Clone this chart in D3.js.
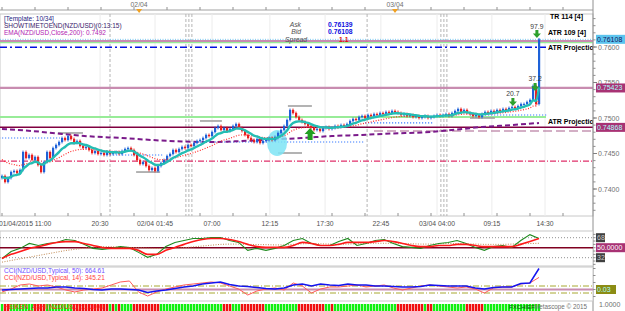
<!DOCTYPE html>
<html>
<head>
<meta charset="utf-8">
<script src="https://cdn.jsdelivr.net/npm/d3@7"></script>
<style>
body{margin:0;background:#fff;}
svg{display:block;font-family:"Liberation Sans",Arial,sans-serif;}
</style>
</head>
<body>
<svg id="chart" width="625" height="311"></svg>
<script>
// ---- data (NZD/USD, 01/04 - 03/04/2015) ----
const firstOpen = 0.74155;
const closes = [
 0.74183,0.74099,0.74155,0.74239,0.74254,0.74225,0.74268,0.74521,0.74437,0.74479,
 0.74408,0.74451,0.74338,0.74239,0.74380,0.74521,0.74437,0.74577,0.74620,0.74662,
 0.74718,0.74690,0.74746,0.74704,0.74648,0.74676,0.74606,0.74577,0.74592,0.74549,
 0.74507,0.74535,0.74493,0.74507,0.74479,0.74521,0.74493,0.74507,0.74521,0.74493,
 0.74535,0.74563,0.74577,0.74549,0.74479,0.74408,0.74352,0.74380,0.74324,0.74268,
 0.74296,0.74254,0.74324,0.74366,0.74408,0.74465,0.74493,0.74549,0.74521,0.74563,
 0.74592,0.74577,0.74620,0.74606,0.74648,0.74676,0.74690,0.74718,0.74761,0.74746,
 0.74803,0.74859,0.74887,0.74831,0.74859,0.74817,0.74845,0.74887,0.74915,0.74859,
 0.74817,0.74761,0.74718,0.74690,0.74662,0.74704,0.74648,0.74676,0.74690,0.74718,
 0.74690,0.74732,0.74789,0.74831,0.74887,0.74972,0.75113,0.75070,0.75014,0.74972,
 0.74944,0.74915,0.74887,0.74859,0.74831,0.74845,0.74817,0.74859,0.74873,0.74845,
 0.74859,0.74887,0.74873,0.74901,0.74887,0.74915,0.74958,0.74986,0.74972,0.75014,
 0.75028,0.75000,0.75042,0.75028,0.75056,0.75042,0.75070,0.75056,0.75085,0.75070,
 0.75099,0.75085,0.75070,0.75042,0.75056,0.75028,0.75042,0.75014,0.75028,0.75000,
 0.75014,0.75028,0.75000,0.75014,0.75028,0.75042,0.75028,0.75042,0.75056,0.75028,
 0.75070,0.75099,0.75127,0.75085,0.75113,0.75070,0.75056,0.75028,0.75042,0.75014,
 0.75056,0.75085,0.75070,0.75099,0.75085,0.75113,0.75099,0.75127,0.75113,0.75141,
 0.75155,0.75141,0.75169,0.75197,0.75197,0.75225,0.75254,0.75451,0.75197,0.76108
];
const emaFastSeed = 0.74169, emaSlowSeed = 0.74437;
const ema200Bars = [0,10,20,30,40,50,60,70,80,90,100,110,120,130,140,150,160,170,179];
const ema200 = [0.74845,0.74817,0.74775,0.74739,0.74718,0.74690,0.74669,0.74662,0.74676,0.74697,
 0.74718,0.74746,0.74761,0.74782,0.74796,0.74831,0.74873,0.74901,0.74930];
const ema200Label = "0.7492";

const priceTicks = [0.7400,0.7450,0.7500,0.7550,0.7600];
const timeLabels = ["01/04/2015 11:00","20:30","02/04 01:45","07:00","12:15","17:30","22:45","03/04 04:00","09:15","14:30"];
const timeLabelBars = [7.7,32.7,51,70,89.3,107.7,126.3,145,163.3,181];
const dayLabels = ["02/04","03/04"];
const dayBars = [45.7,131];
const sepSingle = [36,121.7];
const sepTriple = [62.3,147.3];

// horizontal levels (price)
const bidPrice = 0.76108, askPrice = 0.76139, spread = "1.1";
const levelTopMauve = 0.76085, levelTopGreen = 0.76062, atrProjHigh = 0.75995;
const levelMidMauve = 0.75423, atrProjLow = 0.75014, levelMaroon = 0.74868;
const levelDashMauve = 0.74817, levelCrimson = 0.74394;
// short segments: [fromBar, toBar, price]
const greySegments = [[18.7,27,0.74789],[44.7,52.7,0.74239],[66,73.3,0.74958],[95.3,103.3,0.75169],[92,100,0.74507],[156,164.3,0.75000]];
const blueDotSegments = [[-1,19.3,0.74718],[36,54,0.74479],[66,121,0.74662],[121,143.7,0.74930],[156,182,0.75042]];
const downArrowBars = [170.3,177.7,178.3];
const downArrowPrices = [0.75282,0.75493,0.76239];
const downArrowLabels = ["20.7","37.2","97.9"];

// oscillator panel (60 samples across the bars)
const oscFast = [30.5,43,48.8,57.7,54,57.7,59.5,64.8,63,56,48.8,47,48.8,52,50.5,41.6,32.7,38,52,59.5,
 63,66.6,66.6,68.4,68.4,63,59.5,45.2,48.8,45.2,48.8,54,63,66.6,57.7,54,54,61,66.6,54,
 57.7,63,64.8,57.7,52,50.5,48.8,54,57.7,59.5,63,57.7,50.5,45.2,52,54,50.5,63,73.5,66.6];
const oscSignal = [30.5,38,43,48.8,52,56,59.5,61,61,57.7,54,50.5,48.8,48.8,48.8,45.2,38,38,45.2,50.5,
 56,61,64.8,66.6,66.6,64.8,61,56,52,50.5,50.5,50.5,54,59.5,57.7,54,54,56,59.5,59.5,
 59.5,61,63,61,57.7,54,52,52,54,54,56,56,54,52,52,52,52,56,61,66.6];
const oscSlow = [24,27,30,33,36,39,42,45,47,49,51,52,52,51,50.5,50,49,48.5,48.5,49,
 50,51.5,53,54.5,56,56.5,56.5,56,55.5,55.5,55,55,56,57,57.5,57,56.5,56,56.5,57,
 57.5,58,58,58,57.5,57,56.5,56.5,57,57.5,57.5,57,56.5,56,56,56,56.5,57,57.5,58];
const oscLevels = [68,50,32];

// CCI panel
const cci50 = [-14,0,14,29,43,43,71,71,43,29,0,-14,14,14,0,-14,-86,-43,-14,29,
 71,100,157,186,214,143,100,86,57,29,14,43,129,157,100,157,129,114,157,129,
 129,100,100,86,71,71,86,129,114,100,100,100,43,14,57,71,71,171,186,600];
const cci14 = [-71,14,129,157,100,129,71,-14,-71,-14,14,43,129,214,243,-71,-186,-71,14,71,
 129,157,186,214,186,100,14,-157,-43,14,43,-14,186,100,-100,14,71,71,100,129,
 71,100,129,43,-14,43,100,129,100,71,43,71,14,-100,43,71,71,157,186,345];

// ---- layout ----
const svg = d3.select("#chart");
const axisX = 593;
const mainTop = 14, mainBot = 216;
const oscTop = 231, oscBot = 266;
const cciTop = 267, cciBot = 301;
const haTop = 302;

const x = d3.scaleLinear().domain([0, closes.length - 1]).range([2, 539]);
const y = d3.scaleLinear().domain([0.74, 0.76]).range([189, 47]);
const xo = d3.scaleLinear().domain([0, oscFast.length - 1]).range([2, 539]);
const yo = d3.scaleLinear().domain([32, 68]).range([257.7, 237.7]);
const yc = d3.scaleLinear().domain([-100, 100]).range([293, 286]);

const bars = closes.map((c, i) => {
  const o = i ? closes[i - 1] : firstOpen;
  return {i, o, c, h: Math.max(o, c) + 0.0002, l: Math.min(o, c) - 0.0002};
});
function ema(vals, period, seed) {
  const k = 2 / (period + 1); let e = seed;
  return vals.map(v => (e = e + k * (v - e)));
}
const emaFast = ema(closes, 8, emaFastSeed);
const emaSlow = ema(closes, 21, emaSlowSeed);

// clip paths
const defs = svg.append("defs");
[["clipMain", mainTop, mainBot], ["clipOsc", oscTop, oscBot], ["clipCci", cciTop, cciBot], ["clipHa", haTop, 311]].forEach(d => {
  defs.append("clipPath").attr("id", d[0]).append("rect")
    .attr("x", 0).attr("y", d[1]).attr("width", axisX).attr("height", d[2] - d[1]);
});

const txt = (par, tx, ty, s, color, size, opts) => {
  const t = par.append("text").attr("x", tx).attr("y", ty).attr("font-size", size || 7).attr("fill", color).text(s);
  if (opts) Object.keys(opts).forEach(k => t.attr(k, opts[k]));
  return t;
};

// ---- top ruler ----
svg.append("line").attr("x1", 0).attr("x2", axisX).attr("y1", 10).attr("y2", 10).attr("stroke", "#a0a0a0");
d3.range(0, 200, 11).forEach(b => {
  if (x(b) > axisX) return;
  svg.append("line").attr("x1", x(b)).attr("x2", x(b)).attr("y1", 7).attr("y2", 10).attr("stroke", "#909090");
});
dayLabels.forEach((t, i) => {
  txt(svg, x(dayBars[i]), 7, t, "#707070", 6.8, {"text-anchor": "middle"});
  const cx = x(dayBars[i]);
  svg.append("path").attr("d", `M${cx - 3},9 L${cx + 3},9 L${cx},13 Z`).attr("fill", "#f0a020");
});

// ---- main panel ----
svg.append("rect").attr("x", 0).attr("y", mainTop).attr("width", axisX).attr("height", mainBot - mainTop)
  .attr("fill", "#fff").attr("stroke", "#c8c8c8");
const g = svg.append("g").attr("clip-path", "url(#clipMain)");

timeLabelBars.slice(1).forEach(b => {
  g.append("line").attr("x1", x(b)).attr("x2", x(b)).attr("y1", mainTop).attr("y2", mainBot).attr("stroke", "#ececec");
});
const vdash = (xx) => g.append("line").attr("x1", xx).attr("x2", xx).attr("y1", mainTop).attr("y2", mainBot)
  .attr("stroke", "#b4b4b4").attr("stroke-dasharray", "3,2");
sepSingle.forEach(b => vdash(x(b)));
sepTriple.forEach(b => { vdash(x(b) - 3); vdash(x(b)); vdash(x(b) + 3); });

const hline = (p, color, w, dash, x2) => g.append("line").attr("x1", 0).attr("x2", x2 || axisX)
  .attr("y1", y(p)).attr("y2", y(p)).attr("stroke", color).attr("stroke-width", w)
  .attr("stroke-dasharray", dash || null);
hline(levelCrimson, "#e0306a", 1.3, "6,2,1,2");
hline(levelMaroon, "#800040", 1.5);
hline(atrProjLow, "#98ec98", 2, null, 546);
hline(levelMidMauve, "#c88cb0", 2.2);
hline(levelTopGreen, "#98ec98", 1.5);
hline(levelTopMauve, "#c88cb0", 2);
hline(bidPrice, "#7cc8f0", 1, "1,1.5");
hline(atrProjHigh, "#0010e0", 1.5, "7,3,2,3", 546);
g.append("line").attr("x1", x(124)).attr("x2", axisX).attr("y1", y(levelDashMauve)).attr("y2", y(levelDashMauve))
  .attr("stroke", "#a8608c").attr("stroke-width", 1.2).attr("stroke-dasharray", "9,4");

greySegments.forEach(s => g.append("line").attr("x1", x(s[0])).attr("x2", x(s[1]))
  .attr("y1", y(s[2])).attr("y2", y(s[2])).attr("stroke", "#a0a0a0").attr("stroke-width", 1.6));
blueDotSegments.forEach(s => g.append("line").attr("x1", x(s[0])).attr("x2", x(s[1]))
  .attr("y1", y(s[2])).attr("y2", y(s[2])).attr("stroke", "#3a7cff").attr("stroke-width", 1.2)
  .attr("stroke-dasharray", "1.2,1.8"));

// EMA 200
g.append("path").datum(ema200)
  .attr("d", d3.line().x((d, i) => x(ema200Bars[i])).y(d => y(d)).curve(d3.curveMonotoneX))
  .attr("fill", "none").attr("stroke", "#7a1a8a").attr("stroke-width", 2).attr("stroke-dasharray", "5,3");

// highlight ellipse
g.append("ellipse").attr("cx", x(91.7)).attr("cy", y(0.74648)).attr("rx", 10).attr("ry", 13)
  .attr("fill", "#7ee4f4").attr("opacity", 0.85);

// candles
const cg = g.append("g");
bars.forEach(b => {
  const col = b.c >= b.o ? "#1e62d8" : "#e82020";
  cg.append("line").attr("x1", x(b.i)).attr("x2", x(b.i)).attr("y1", y(b.h)).attr("y2", y(b.l)).attr("stroke", col);
  const top = y(Math.max(b.o, b.c)), bot = y(Math.min(b.o, b.c));
  cg.append("rect").attr("x", x(b.i) - 1).attr("y", top).attr("width", 2.2)
    .attr("height", Math.max(1, bot - top)).attr("fill", col);
});

// moving averages
g.append("path").datum(emaSlow).attr("d", d3.line().x((d, i) => x(i)).y(d => y(d)))
  .attr("fill", "none").attr("stroke", "#ff2a2a").attr("stroke-width", 1.2).attr("stroke-dasharray", "1,1.6");
g.append("path").datum(emaFast).attr("d", d3.line().x((d, i) => x(i)).y(d => y(d)).curve(d3.curveMonotoneX))
  .attr("fill", "none").attr("stroke", "#24bdb3").attr("stroke-width", 2.4);

// arrows
downArrowBars.forEach((b, i) => {
  const cx = x(b), t = y(downArrowPrices[i]);
  g.append("path").attr("d", `M${cx - 1.5},${t} h3 v3.5 h2.5 l-4,4.5 l-4,-4.5 h2.5 Z`).attr("fill", "#2ca02c");
  txt(g, cx, t - 1.5, downArrowLabels[i], "#404040", 6.8, {"text-anchor": "middle"});
});
{
  const cx = x(102.7), t = y(0.74859);
  g.append("path").attr("d", `M${cx},${t} l5.5,6 h-3 v6 h-5 v-6 h-3 Z`).attr("fill", "#22a022");
}

// texts in main panel
txt(g, 4, 20.5, "[Template: 10/34]", "#1a1a80", 6.5);
txt(g, 4, 27.5, "SHOWTIMETOEND(NZD/USD)(0:13:15)", "#3a1a6a", 6.5);
txt(g, 4, 34.5, "EMA(NZD/USD,Close,200): " + ema200Label, "#b21cb2", 6.5);
txt(g, 301, 27, "Ask", "#505050", 6.8, {"text-anchor": "end", "font-style": "italic"});
txt(g, 301, 34.3, "Bid", "#505050", 6.8, {"text-anchor": "end", "font-style": "italic"});
txt(g, 307, 41.6, "Spread", "#505050", 6.8, {"text-anchor": "end", "font-style": "italic"});
txt(g, 328, 27, askPrice.toFixed(5), "#1010e0", 6.8, {"font-weight": "bold"});
txt(g, 328, 34.3, bidPrice.toFixed(5), "#1010e0", 6.8, {"font-weight": "bold"});
txt(g, 339, 41.6, spread, "#e01010", 6.8, {"font-weight": "bold"});
txt(g, 550, 18.5, "TR 114 [4]", "#000", 7, {"font-weight": "bold"});
txt(g, 548, 35, "ATR 109 [4]", "#000", 7, {"font-weight": "bold"});
txt(g, 548, 50, "ATR Projection", "#000", 7, {"font-weight": "bold"});
txt(g, 548, 123.5, "ATR Projection", "#000", 7, {"font-weight": "bold"});

// right price axis
svg.append("line").attr("x1", axisX).attr("x2", axisX).attr("y1", 0).attr("y2", 311).attr("stroke", "#909090");
d3.range(0.736, 0.765, 0.001).forEach(p => {
  const yy = y(p); if (yy < mainTop || yy > mainBot) return;
  svg.append("line").attr("x1", axisX).attr("x2", axisX + 2.5).attr("y1", yy).attr("y2", yy).attr("stroke", "#909090");
});
priceTicks.forEach(p => {
  svg.append("line").attr("x1", axisX).attr("x2", axisX + 4).attr("y1", y(p)).attr("y2", y(p)).attr("stroke", "#808080");
  txt(svg, 598, y(p) + 2.5, p.toFixed(4), "#707070", 7);
});
const tag = (ty, s, bg, fg, w) => {
  svg.append("rect").attr("x", 596).attr("y", ty - 4.5).attr("width", w || 29).attr("height", 9).attr("fill", bg);
  txt(svg, 597, ty + 2.5, s, fg, 7);
};
tag(y(bidPrice), bidPrice.toFixed(5), "#5cc4ee", "#14145a");
tag(y(levelMidMauve), levelMidMauve.toFixed(5), "#a83274", "#a8ffff");
tag(y(levelMaroon), levelMaroon.toFixed(5), "#a83274", "#a8ffff");

// time axis
d3.range(0, 200, 11).forEach(b => {
  if (x(b) > axisX) return;
  svg.append("line").attr("x1", x(b)).attr("x2", x(b)).attr("y1", mainBot - 3).attr("y2", mainBot).attr("stroke", "#909090");
});
timeLabels.forEach((t, i) => {
  txt(svg, x(timeLabelBars[i]), 226, t, "#505050", 6.8, {"text-anchor": "middle"});
});

// ---- oscillator panel ----
svg.append("rect").attr("x", 0).attr("y", oscTop).attr("width", axisX).attr("height", oscBot - oscTop)
  .attr("fill", "#fff").attr("stroke", "#c8c8c8");
const go = svg.append("g").attr("clip-path", "url(#clipOsc)");
oscLevels.forEach(v => {
  if (v === 50) go.append("line").attr("x1", 0).attr("x2", axisX).attr("y1", yo(v)).attr("y2", yo(v)).attr("stroke", "#800020").attr("stroke-width", 1.5);
  else go.append("line").attr("x1", 0).attr("x2", axisX).attr("y1", yo(v)).attr("y2", yo(v)).attr("stroke", "#909090").attr("stroke-dasharray", "1,2");
});
const lo = d3.line().x((d, i) => xo(i)).y(d => yo(d));
go.append("path").datum(oscSlow).attr("d", lo).attr("fill", "none").attr("stroke", "#c08850").attr("stroke-width", 1).attr("stroke-dasharray", "1,1.5");
go.append("path").datum(oscFast).attr("d", lo).attr("fill", "none").attr("stroke", "#1e8a1e").attr("stroke-width", 1.1);
go.append("path").datum(oscSignal).attr("d", lo.curve(d3.curveMonotoneX)).attr("fill", "none").attr("stroke", "#ff1a1a").attr("stroke-width", 1.6);
d3.range(20, 80, 6).forEach(v => {
  const yy = yo(v); if (yy < oscTop || yy > oscBot) return;
  svg.append("line").attr("x1", axisX).attr("x2", axisX + 2.5).attr("y1", yy).attr("y2", yy).attr("stroke", "#909090");
});
tag(yo(68), "68", "#404040", "#c8c8c8", 9);
tag(yo(50), "50.0000", "#a83274", "#ffffff");
tag(yo(32), "32", "#404040", "#c8c8c8", 9);

// ---- CCI panel ----
svg.append("rect").attr("x", 0).attr("y", cciTop).attr("width", axisX).attr("height", cciBot - cciTop)
  .attr("fill", "#fff").attr("stroke", "#c8c8c8");
const gc = svg.append("g").attr("clip-path", "url(#clipCci)");
gc.append("line").attr("x1", 0).attr("x2", axisX).attr("y1", yc(0)).attr("y2", yc(0)).attr("stroke", "#c88cb0").attr("stroke-width", 2.2);
[100, -100].forEach(v => gc.append("line").attr("x1", 0).attr("x2", axisX).attr("y1", yc(v)).attr("y2", yc(v))
  .attr("stroke", "#a8a830").attr("stroke-width", 1).attr("stroke-dasharray", "6,2,1,2"));
const lc = d3.line().x((d, i) => xo(i)).y(d => yc(d));
gc.append("path").datum(cci14).attr("d", lc).attr("fill", "none").attr("stroke", "#ff5a5a").attr("stroke-width", 1);
gc.append("path").datum(cci50).attr("d", lc).attr("fill", "none").attr("stroke", "#1414f0").attr("stroke-width", 1.5);
txt(gc, 4, 273, "CCI(NZD/USD,Typical, 50): 664.61", "#7050ff", 6.5);
txt(gc, 4, 280, "CCI(NZD/USD,Typical, 14): 345.21", "#ff3c3c", 6.5);
d3.range(-600, 800, 200).forEach(v => {
  const yy = yc(v); if (yy < cciTop || yy > cciBot) return;
  svg.append("line").attr("x1", axisX).attr("x2", axisX + 2.5).attr("y1", yy).attr("y2", yy).attr("stroke", "#909090");
});
tag(yc(0), "0.03", "#8c8c14", "#a8ffff", 20);

// ---- Heiken Ashi panel ----
const gh = svg.append("g").attr("clip-path", "url(#clipHa)");
let haO = (bars[0].o + bars[0].c) / 2, haC = (bars[0].o + bars[0].h + bars[0].l + bars[0].c) / 4;
bars.forEach((b, i) => {
  if (i) { haO = (haO + haC) / 2; haC = (b.o + b.h + b.l + b.c) / 4; }
  gh.append("rect").attr("x", x(i) - 1.2).attr("y", 304).attr("width", 2.4).attr("height", 8)
    .attr("fill", haC >= haO ? "#10f010" : "#f01010");
});
txt(gh, 4, 309, "HEIKEN_ASHI(NZD/USD): 1.0000", "#ff2020", 6.5);
txt(gh, 509, 309, "FXCHIEF", "#0a500a", 6);
txt(gh, 534, 309, "Metascope © 2015", "#707070", 6.3);
txt(svg, 599, 307, "1.0000", "#707070", 7);
</script>
</body>
</html>
